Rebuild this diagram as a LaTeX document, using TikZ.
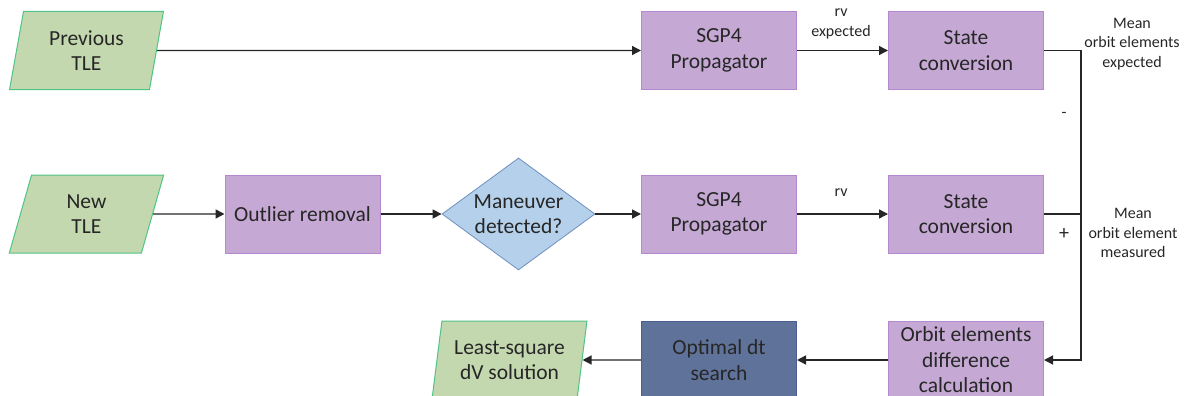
\documentclass[tikz,border=0pt]{standalone}
\usepackage{fontspec}
\setmainfont{Carlito}
\usetikzlibrary{shapes.geometric,arrows.meta}
\definecolor{gfill}{HTML}{C4D8AF}
\definecolor{gdraw}{HTML}{4FC487}
\definecolor{pfill}{HTML}{C5A9D4}
\definecolor{pdraw}{HTML}{B588CF}
\definecolor{bfill}{HTML}{B5D0EB}
\definecolor{bdraw}{HTML}{6F8FBF}
\definecolor{dfill}{HTML}{5F7299}
\definecolor{ddraw}{HTML}{4C6090}
\definecolor{txt}{HTML}{262626}
\tikzset{
  main/.style={font=\fontsize{21.5}{25.5}\selectfont, text=txt, align=center},
  io/.style={main, trapezium, trapezium left angle=78.4, trapezium right angle=101.6,
    trapezium stretches=true, minimum width=155pt, minimum height=78pt,
    fill=gfill, draw=gdraw, line width=1pt, inner sep=0pt},
  proc/.style={main, rectangle, minimum width=155pt, minimum height=78pt,
    fill=pfill, draw=pdraw, line width=1pt, inner sep=0pt},
  darkproc/.style={proc, fill=dfill, draw=ddraw},
  decision/.style={main, diamond, minimum width=153pt, minimum height=112pt,
    fill=bfill, draw=bdraw, line width=0.8pt, inner sep=0pt, aspect=1.37},
  lbl/.style={font=\fontsize{16}{19.5}\selectfont, text=txt, align=center, inner sep=0pt},
  conn/.style={line width=1.4pt, draw=black!85},
  arr/.style={conn, -{Triangle[length=9pt,width=9pt]}}
}
\begin{document}
\begin{tikzpicture}[x=1pt,y=-1pt]
\useasboundingbox (0,0) rectangle (1188,396);
% top row
\node[io] (ptle) at (86.5,50.5) {Previous\\TLE};
\node[proc] (sgp1) at (719,50.5) {SGP4\\Propagator};
\node[proc] (st1) at (966,50.5) {State\\conversion};
% middle row
\node[io] (ntle) at (86.5,214) {New\\TLE};
\node[proc] (out) at (302.5,214) {Outlier removal};
\node[decision] (man) at (518.5,214) {Maneuver\\detected?};
\node[proc] (sgp2) at (719,214) {SGP4\\Propagator};
\node[proc] (st2) at (966,214) {State\\conversion};
% bottom row
\node[io] (ls) at (509.5,360) {Least-square\\dV solution};
\node[darkproc] (opt) at (719,360) {Optimal dt\\search};
\node[proc] (od) at (966,360) {Orbit elements\\difference\\calculation};
\coordinate (jn) at (1081,360);
% connectors
\draw[arr] (ptle.east) -- (sgp1.west);
\draw[arr] (sgp1.east) -- (st1.west);
\draw[arr] (ntle.east) -- (out.west);
\draw[arr] (out.east) -- (man.west);
\draw[arr] (man.east) -- (sgp2.west);
\draw[arr] (sgp2.east) -- (st2.west);
\draw[arr] (st1.east) -| (jn) -- (od.east);
\draw[conn] (st2.east) -- (st2.east -| jn);
\draw[arr] (od.west) -- (opt.east);
\draw[arr] (opt.west) -- (ls.east);
% labels
\node[lbl] (l1) at (841,24) {rv\\expected};
\node[lbl] (l2) at (841,193) {rv};
\node[lbl] (l3) at (1064,115) {-};
\node[lbl, font=\fontsize{20}{20}\selectfont] (l4) at (1064,234) {+};
\node[lbl] (l5) at (1132,44) {Mean\\orbit elements\\expected};
\node[lbl] (l6) at (1133,233) {Mean\\orbit element\\measured};
\end{tikzpicture}
\end{document}
